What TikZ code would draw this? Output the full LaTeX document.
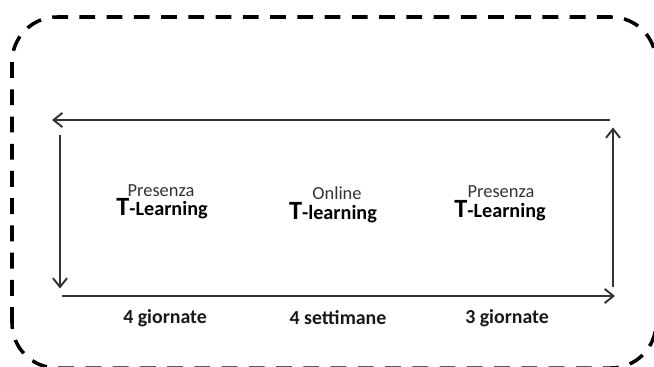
\documentclass[tikz,border=0pt]{standalone}
\usepackage{fontspec}
\setmainfont{Carlito}
\usetikzlibrary{arrows.meta}

\tikzset{
  freccia/.style={line width=1.1pt, draw=black!80, -{Straight Barb[length=5pt,width=8pt,line width=1.1pt]}},
  etichetta/.style={inner sep=0pt, text=black!80, font=\fontsize{10.5}{12}\selectfont},
  durata/.style={inner sep=0pt, text=black!90, font=\fontsize{11.3}{13}\selectfont\bfseries}
}
\newcommand{\TL}[1]{{\fontsize{15}{18}\selectfont\bfseries T}{\fontsize{11.5}{13}\selectfont\bfseries -#1}}

\begin{document}
\begin{tikzpicture}
                \useasboundingbox (0,0) rectangle (13.08,7.32);
                % Cornice tratteggiata
                \draw[line width=2pt, dash pattern=on 9pt off 6.5pt, rounded corners=0.9cm]
                  (0.24,-0.04) rectangle (13.12,6.98);
                % Angoli del ciclo
                \coordinate (topR) at (12.2,4.92);
                \coordinate (topL) at (1.04,4.92);
                \coordinate (lefT) at (1.2,4.62);
                \coordinate (lefB) at (1.2,1.55);
                \coordinate (botL) at (1.24,1.4);
                \coordinate (botR) at (12.3,1.4);
                \coordinate (rigB) at (12.26,1.58);
                \coordinate (rigT) at (12.26,4.77);
                \draw[freccia] (topR) -- (topL);
                \draw[freccia] (lefT) -- (lefB);
                \draw[freccia] (botL) -- (botR);
                \draw[freccia] (rigB) -- (rigT);
                % Moduli
                \node[etichetta] (pres1) at (3.22,3.5) {Presenza};
                \node[inner sep=0pt] (tl1) at (3.24,3.14) {\TL{Learning}};
                \node[etichetta] (onl) at (6.74,3.46) {Online};
                \node[inner sep=0pt] (tl2) at (6.66,3.06) {\TL{learning}};
                \node[etichetta] (pres3) at (10.02,3.49) {Presenza};
                \node[inner sep=0pt] (tl3) at (10.0,3.1) {\TL{Learning}};
                % Durate
                \node[durata] (g1) at (3.3,0.96) {4 giornate};
                \node[durata] (g2) at (6.76,0.96) {4 settimane};
                \node[durata] (g3) at (10.14,0.96) {3 giornate};
                \end{tikzpicture}
\end{document}
